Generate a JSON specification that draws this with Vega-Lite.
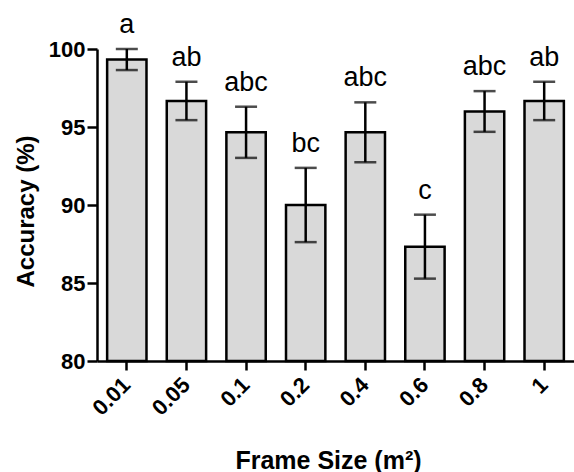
{
  "$schema": "https://vega.github.io/schema/vega-lite/v6.json",
  "width": 477,
  "height": 312,
  "autosize": "none",
  "padding": {"left": 97, "top": 49, "right": 0, "bottom": 111},
  "background": "white",
  "config": {
    "view": {"stroke": null},
    "font": "Liberation Sans",
    "axis": {
      "domainColor": "black",
      "domainWidth": 2.5,
      "tickColor": "black",
      "tickWidth": 2.5,
      "grid": false,
      "labelColor": "black",
      "labelFont": "Liberation Sans",
      "labelFontWeight": "bold",
      "labelFontSize": 22,
      "titleColor": "black",
      "titleFont": "Liberation Sans",
      "titleFontWeight": "bold",
      "titleFontSize": 24
    }
  },
  "data": {
    "values": [
      {"size": "0.01", "mean": 99.33, "lower": 98.65, "upper": 100.0, "letter": "a"},
      {"size": "0.05", "mean": 96.67, "lower": 95.44, "upper": 97.9, "letter": "ab"},
      {"size": "0.1", "mean": 94.67, "lower": 93.02, "upper": 96.3, "letter": "abc"},
      {"size": "0.2", "mean": 90.0, "lower": 87.62, "upper": 92.38, "letter": "bc"},
      {"size": "0.4", "mean": 94.67, "lower": 92.74, "upper": 96.58, "letter": "abc"},
      {"size": "0.6", "mean": 87.33, "lower": 85.28, "upper": 89.38, "letter": "c"},
      {"size": "0.8", "mean": 96.0, "lower": 94.69, "upper": 97.3, "letter": "abc"},
      {"size": "1", "mean": 96.67, "lower": 95.44, "upper": 97.9, "letter": "ab"}
    ]
  },
  "encoding": {
    "x": {
      "field": "size",
      "type": "nominal",
      "sort": null,
      "scale": {"paddingInner": 0.34, "paddingOuter": 0.17},
      "axis": {
        "title": "Frame Size (m²)",
        "titleFontSize": 25,
        "labelAngle": -45,
        "labelAlign": "right",
        "labelBaseline": "middle",
        "labelPadding": 11,
        "tickSize": 9,
        "titleX": 231,
        "titleAlign": "center",
        "titleY": 107,
        "titleBaseline": "alphabetic"
      }
    }
  },
  "layer": [
    {
      "mark": {"type": "bar", "fill": "#d9d9d9", "stroke": "black", "strokeWidth": 2.5},
      "encoding": {
        "y": {
          "field": "mean",
          "type": "quantitative",
          "scale": {"domain": [80, 100], "zero": false, "nice": false},
          "axis": {
            "title": "Accuracy (%)",
            "values": [80, 85, 90, 95, 100],
            "tickSize": 10,
            "labelPadding": 2,
            "titleX": -64,
            "titleY": 162,
            "titleAlign": "center",
            "titleBaseline": "alphabetic"
          }
        },
        "y2": {"datum": 80}
      }
    },
    {
      "mark": {"type": "rule", "color": "black", "strokeWidth": 2.5},
      "encoding": {
        "y": {"field": "lower", "type": "quantitative"},
        "y2": {"field": "upper"}
      }
    },
    {
      "mark": {"type": "tick", "color": "black", "size": 22, "thickness": 2.5},
      "encoding": {
        "y": {"field": "lower", "type": "quantitative"}
      }
    },
    {
      "mark": {"type": "tick", "color": "black", "size": 22, "thickness": 2.5},
      "encoding": {
        "y": {"field": "upper", "type": "quantitative"}
      }
    },
    {
      "mark": {"type": "text", "fontSize": 27, "baseline": "alphabetic", "dy": -16, "color": "black", "font": "Liberation Sans"},
      "encoding": {
        "y": {"field": "upper", "type": "quantitative"},
        "text": {"field": "letter"}
      }
    }
  ]
}
